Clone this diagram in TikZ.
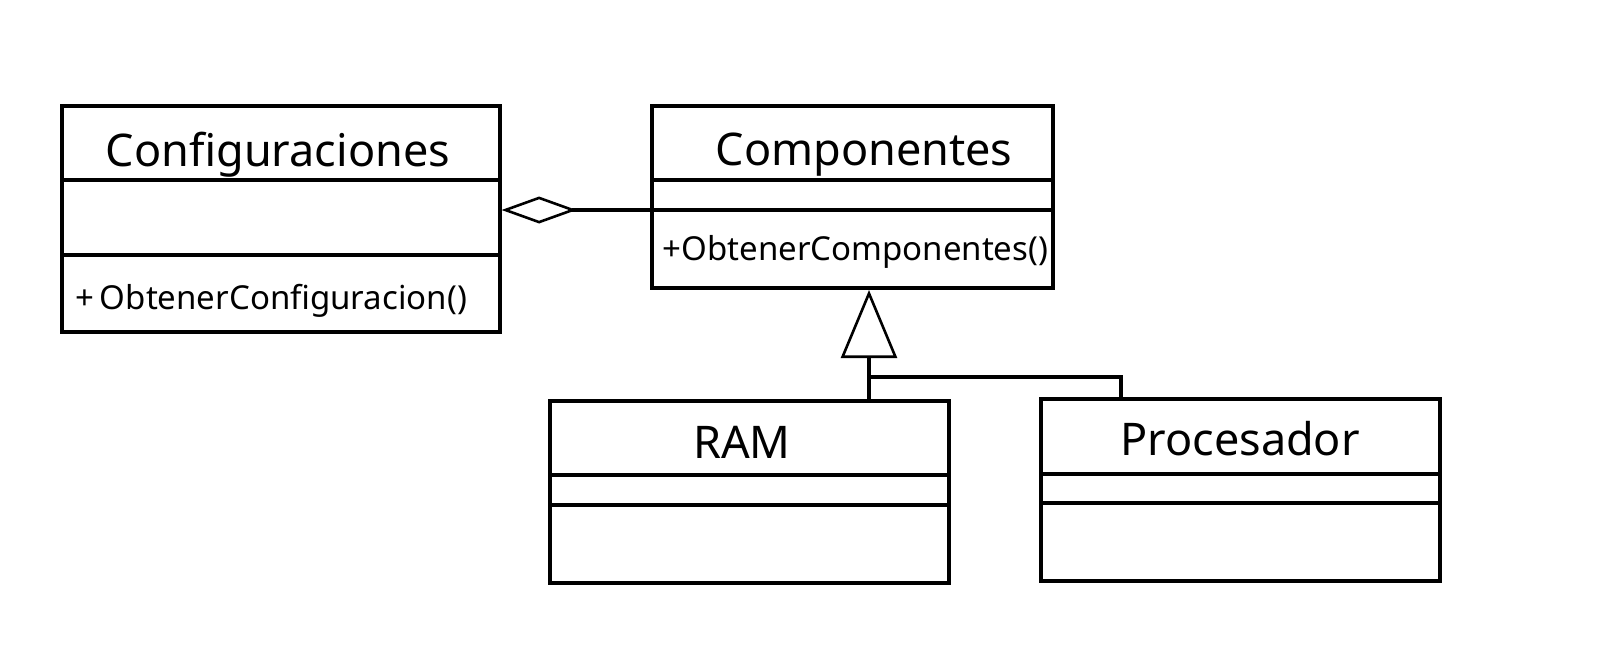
\documentclass[tikz,border=0pt]{standalone}
\usepackage{fontspec}
\setmainfont{Noto Sans}
\usetikzlibrary{arrows.meta,positioning}

\tikzset{
    classbox/.style={draw, line width=3.2pt, inner sep=0pt},
    classname/.style={font=\fontsize{45}{48}\selectfont, inner sep=0pt, anchor=base},
    classop/.style={font=\fontsize{33}{36}\selectfont, inner sep=0pt, anchor=base west}
}

\begin{document}
\begin{tikzpicture}[x=1pt, y=1pt, line width=3.2pt]
    \useasboundingbox[fill=white] (0,0) rectangle (1616,-648);

    % Classes
    \node[classbox, minimum width=438pt, minimum height=226pt] (config) at (281,-219) {};
    \node[classbox, minimum width=401pt, minimum height=182pt] (comp) at (852.5,-197) {};
    \node[classbox, minimum width=399pt, minimum height=182pt] (ram) at (749.5,-492) {};
    \node[classbox, minimum width=399pt, minimum height=182pt] (proc) at (1240.5,-490) {};

    % Compartments
    \foreach \n/\y in {config/180, config/255, comp/180, comp/210, ram/475, ram/505, proc/474, proc/503} {
        \draw (\n.west |- 0,-\y) -- (\n.east |- 0,-\y);
    }

    % Names and operations
    \node[classname] (configname) at (278,-166) {Configuraciones};
    \node[classname] (compname) at (864,-165) {Componentes};
    \node[classname] (ramname) at (742,-458) {RAM};
    \node[classname] (procname) at (1240,-455) {Procesador};
    \node[classop] (configop) at (74,-309) {+\,ObtenerConfiguracion()};
    \node[classop] (compop) at (661,-260) {+ObtenerComponentes()};

    % Aggregation
    \coordinate (agg) at (0,-210);
    \draw[{Diamond[open, length=75pt, width=27pt, line width=2.6pt]}-] (config.east |- agg) -- (comp.west |- agg);

    % Generalization
    \coordinate (gen) at (869,-290);
    \coordinate (junc) at (869,-377);
    \coordinate (pjoin) at (1121,-377);
    \draw[-{Triangle[open, length=68pt, width=56pt, line width=2.6pt]}] (ram.north -| gen) -- (gen);
    \draw (junc) -- (pjoin) -- (pjoin |- proc.north);
\end{tikzpicture}
\end{document}
